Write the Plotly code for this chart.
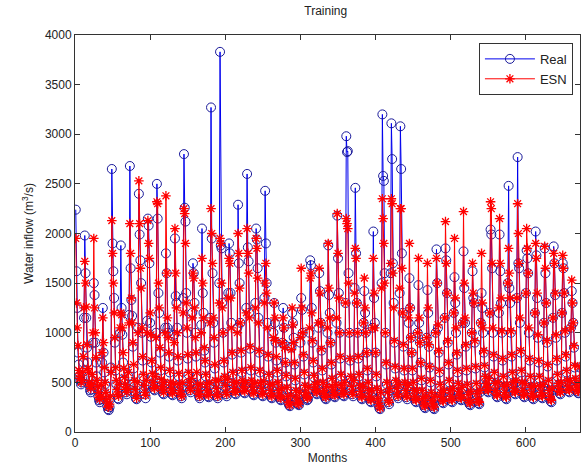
import plotly.graph_objects as go

# Real monthly water inflow (m^3/s), one row of 12 months per year
real_values = [
    2240, 1620, 1250, 800, 680, 560, 520, 480, 500, 560, 700, 1150,
    1980, 1600, 1150, 850, 700, 560, 470, 420, 400, 430, 520, 900,
    1500, 1380, 900, 700, 560, 430, 360, 320, 300, 330, 420, 700,
    1250, 800, 600, 480, 380, 310, 260, 230, 220, 250, 330, 650,
    2650, 1900, 1620, 1350, 900, 620, 480, 400, 340, 330, 450, 1000,
    1880, 1250, 980, 700, 600, 520, 450, 400, 380, 420, 560, 1180,
    2680, 1650, 1330, 1170, 860, 640, 500, 400, 340, 330, 470, 1050,
    2400, 1990, 1730, 1500, 1000, 720, 560, 440, 380, 340, 480, 1120,
    2150, 2080, 1700, 1100, 960, 700, 560, 480, 430, 420, 520, 1000,
    2500, 2150, 1400, 1200, 800, 620, 500, 430, 390, 380, 470, 1050,
    1800, 1600, 1050, 1000, 760, 600, 480, 420, 380, 370, 460, 980,
    1950, 1370, 1300, 1050, 720, 560, 460, 400, 360, 340, 460, 1350,
    2800, 2260, 2120, 1400, 1000, 740, 580, 480, 420, 400, 500, 1200,
    1700, 1600, 1300, 1000, 760, 560, 460, 400, 360, 340, 450, 1080,
    2050, 1400, 1200, 820, 700, 560, 460, 400, 360, 350, 470, 1150,
    3270, 1950, 1600, 1100, 900, 640, 500, 420, 360, 340, 480, 1500,
    3830, 1880, 1850, 1300, 1000, 700, 540, 450, 380, 360, 500, 1400,
    1900, 1800, 1400, 1100, 780, 580, 480, 420, 390, 380, 470, 1050,
    2290, 1700, 1500, 1100, 800, 600, 500, 440, 400, 390, 480, 1250,
    2600, 1860, 1720, 1200, 840, 620, 500, 430, 380, 370, 460, 1300,
    2050, 1940, 1650, 1150, 800, 600, 480, 420, 370, 360, 480, 1350,
    2430, 1900, 1500, 1100, 760, 560, 460, 400, 350, 340, 450, 1000,
    1300, 1100, 900, 720, 600, 480, 400, 350, 330, 320, 420, 900,
    1250, 1050, 880, 700, 560, 430, 340, 290, 270, 260, 350, 850,
    1200, 1100, 950, 680, 520, 400, 330, 290, 280, 270, 380, 900,
    1350, 1230, 1000, 760, 580, 450, 380, 340, 320, 330, 430, 1000,
    1730, 1680, 1250, 900, 700, 550, 460, 410, 390, 380, 480, 1050,
    1600, 1420, 1100, 820, 620, 480, 400, 360, 340, 330, 440, 1000,
    1880, 1380, 1200, 900, 680, 520, 430, 380, 360, 350, 460, 1100,
    2180, 1750, 1400, 1000, 740, 560, 450, 400, 370, 360, 480, 1300,
    2980, 2820, 2830, 1600, 1000, 720, 540, 440, 380, 360, 500, 1450,
    2460, 1800, 1300, 1000, 740, 560, 450, 390, 340, 330, 440, 1100,
    1420, 1200, 1000, 800, 620, 480, 400, 340, 310, 300, 400, 1050,
    2020, 1350, 1100, 800, 560, 420, 320, 270, 240, 230, 380, 1500,
    3200, 2580, 2530, 1600, 1000, 680, 480, 380, 300, 280, 420, 1600,
    3110, 2750, 1700, 1300, 900, 640, 500, 420, 360, 340, 460, 1400,
    3080, 2650, 1800, 1200, 860, 620, 480, 400, 350, 330, 450, 1100,
    1550, 1250, 950, 800, 620, 480, 400, 340, 310, 300, 400, 1000,
    1480, 1100, 900, 700, 520, 400, 320, 270, 250, 240, 340, 950,
    1430, 1200, 860, 650, 500, 380, 300, 260, 240, 230, 340, 1000,
    1840, 1500, 1050, 800, 600, 460, 380, 330, 300, 290, 400, 1150,
    1850, 1730, 1400, 900, 680, 500, 400, 340, 310, 300, 420, 1200,
    1560, 1300, 1000, 780, 600, 470, 390, 350, 330, 320, 430, 1100,
    1820, 1450, 1100, 860, 620, 460, 360, 300, 280, 270, 390, 1000,
    1620, 1350, 1300, 900, 640, 470, 370, 310, 290, 280, 400, 1100,
    1400, 1250, 1000, 800, 650, 540, 470, 430, 410, 400, 520, 1200,
    2040, 1990, 1650, 1000, 760, 580, 470, 400, 360, 350, 480, 1200,
    1990, 1620, 1300, 1000, 720, 540, 440, 380, 340, 330, 460, 1500,
    2480, 1450, 1300, 1000, 760, 580, 480, 420, 390, 380, 500, 1350,
    2770, 1700, 1650, 1100, 800, 600, 480, 400, 360, 350, 470, 1400,
    1830, 1750, 1600, 1000, 720, 540, 430, 370, 340, 330, 450, 1200,
    2020, 1780, 1350, 950, 700, 540, 440, 380, 350, 340, 460, 1100,
    1850, 1600, 1300, 900, 660, 500, 400, 340, 310, 300, 420, 1150,
    1870, 1700, 1380, 950, 720, 560, 470, 420, 390, 380, 480, 1200,
    1700, 1650, 1400, 1000, 760, 600, 500, 440, 410, 400, 500, 1050,
    1420, 1300, 1100, 850, 650, 520, 450, 410, 395, 390, 480, 650,
]

# ESN model output (m^3/s)
esn_values = [
    1950, 1300, 1050, 870, 620, 540, 560, 500, 520, 600, 760, 1250,
    1720, 1500, 1260, 880, 640, 600, 500, 460, 440, 480, 580, 1000,
    1950, 1250, 1000, 750, 520, 460, 400, 350, 330, 360, 470, 800,
    1150, 900, 650, 500, 400, 330, 290, 250, 260, 280, 360, 600,
    2130, 1800, 1500, 1200, 950, 650, 520, 430, 380, 360, 480, 1050,
    1200, 1180, 1050, 800, 640, 550, 480, 430, 400, 440, 600, 1100,
    2100, 1800, 1350, 1100, 900, 680, 520, 430, 370, 340, 500, 1000,
    2530, 2100, 1650, 1450, 1050, 760, 580, 470, 400, 370, 520, 1000,
    2130, 1900, 1750, 1200, 980, 720, 590, 500, 450, 440, 560, 950,
    2320, 2300, 1500, 1250, 850, 650, 530, 460, 420, 400, 500, 1000,
    2380, 1600, 1150, 950, 800, 620, 500, 440, 400, 390, 490, 900,
    2050, 1600, 1250, 1000, 760, 590, 480, 420, 380, 360, 500, 1200,
    2250, 2200, 1900, 1300, 1050, 780, 600, 500, 440, 420, 540, 1150,
    1600, 1550, 1250, 950, 800, 600, 480, 420, 380, 360, 480, 1000,
    1750, 1500, 1150, 850, 720, 580, 480, 420, 380, 370, 500, 1100,
    2250, 2000, 1700, 1150, 950, 680, 520, 440, 380, 360, 520, 1300,
    1950, 1900, 1500, 1250, 1000, 720, 560, 470, 400, 380, 530, 1350,
    1750, 1700, 1350, 1050, 800, 600, 500, 440, 410, 400, 500, 1000,
    2000, 1800, 1450, 1100, 820, 620, 520, 460, 420, 410, 500, 1200,
    2050, 1800, 1600, 1150, 860, 650, 520, 450, 400, 390, 490, 1250,
    1950, 1850, 1550, 1100, 820, 620, 500, 440, 390, 380, 510, 1300,
    1500, 1700, 1400, 1050, 780, 580, 480, 420, 370, 360, 480, 950,
    1300, 1150, 920, 760, 620, 500, 420, 370, 350, 340, 440, 900,
    1150, 1050, 850, 700, 570, 450, 360, 300, 280, 270, 370, 830,
    1250, 1080, 900, 700, 540, 420, 350, 300, 290, 280, 400, 950,
    1650, 1250, 1000, 780, 600, 470, 400, 360, 340, 350, 450, 1050,
    1550, 1600, 1200, 920, 720, 570, 480, 430, 410, 400, 500, 1100,
    1650, 1400, 1100, 840, 640, 500, 420, 380, 360, 350, 460, 1050,
    1900, 1450, 1150, 900, 700, 540, 450, 400, 380, 370, 480, 1150,
    2200, 1800, 1350, 1000, 760, 580, 470, 420, 390, 380, 500, 1300,
    2150, 2100, 2050, 1500, 1000, 740, 560, 460, 400, 380, 520, 1400,
    1850, 1750, 1300, 1000, 760, 580, 470, 410, 360, 350, 460, 1100,
    1550, 1250, 1000, 800, 640, 500, 420, 360, 330, 320, 420, 1050,
    1750, 1400, 1050, 800, 580, 440, 340, 290, 260, 240, 400, 1450,
    2350, 2150, 1900, 1500, 1000, 700, 500, 400, 320, 300, 440, 1700,
    2350, 2300, 1600, 1250, 920, 660, 520, 440, 380, 360, 480, 1450,
    2250, 2250, 1650, 1200, 880, 640, 500, 420, 370, 350, 470, 1150,
    1900, 1250, 950, 800, 640, 500, 420, 360, 330, 320, 420, 1000,
    1750, 1150, 900, 700, 540, 420, 340, 290, 270, 260, 360, 950,
    1700, 1250, 880, 660, 520, 400, 320, 280, 260, 250, 360, 1000,
    1750, 1500, 1080, 820, 620, 480, 400, 350, 320, 310, 420, 1150,
    2120, 1700, 1400, 920, 700, 520, 420, 360, 330, 320, 440, 1200,
    1950, 1350, 1050, 800, 620, 490, 410, 370, 350, 340, 450, 1100,
    2220, 1500, 1150, 880, 640, 480, 380, 320, 300, 290, 410, 1000,
    1700, 1400, 1300, 920, 660, 490, 390, 330, 310, 300, 420, 1100,
    1800, 1300, 1050, 820, 670, 560, 490, 450, 430, 420, 540, 1200,
    2320, 2250, 1700, 1050, 780, 600, 490, 420, 380, 370, 500, 1250,
    2150, 1700, 1350, 1020, 740, 560, 460, 400, 360, 350, 480, 1500,
    1850, 1600, 1350, 1020, 780, 600, 500, 440, 410, 400, 520, 1350,
    2300, 2000, 1700, 1150, 820, 620, 500, 420, 380, 370, 490, 1400,
    2050, 1850, 1600, 1050, 740, 560, 450, 390, 360, 350, 470, 1200,
    1900, 1750, 1400, 980, 720, 560, 460, 400, 370, 360, 480, 1100,
    1870, 1650, 1300, 920, 680, 520, 420, 360, 330, 320, 440, 1150,
    1800, 1700, 1400, 980, 740, 580, 490, 440, 410, 400, 500, 1200,
    1780, 1650, 1400, 1020, 780, 620, 520, 460, 430, 420, 520, 1050,
    1530, 1300, 1100, 870, 670, 540, 470, 430, 415, 410, 500, 660,
]

months = list(range(1, len(real_values) + 1))
x_ticks = [0, 100, 200, 300, 400, 500, 600]
y_ticks = [0, 500, 1000, 1500, 2000, 2500, 3000, 3500, 4000]

FONT = "Liberation Sans, Arial"

fig = go.Figure()
fig.add_trace(go.Scatter(
    x=months, y=real_values, name="Real", mode="lines+markers",
    line=dict(color="#0000ee", width=1),
    marker=dict(symbol="circle-open", size=9, color="#1a1a9a", line=dict(width=1)),
))
fig.add_trace(go.Scatter(
    x=months, y=esn_values, name="ESN", mode="lines+markers",
    line=dict(color="#ff0000", width=1),
    marker=dict(symbol="asterisk-open", size=8, color="#ff0000",
                line=dict(width=1.3, color="#ff0000")),
))

axis_common = dict(
    showline=True, linecolor="#333", linewidth=1, mirror="ticks",
    ticks="inside", ticklen=5, tickcolor="#333", showgrid=False, zeroline=False,
    tickfont=dict(family=FONT, size=12, color="#222"),
)

fig.update_layout(
    width=587, height=472,
    margin=dict(l=75, r=7, t=35, b=40),
    paper_bgcolor="white", plot_bgcolor="white",
    title=dict(text="Training", x=0.555, xanchor="center", y=0.985, yanchor="top",
               font=dict(family=FONT, size=12, color="#222")),
    xaxis=dict(range=[0, 672], tickvals=x_ticks, ticktext=[str(v) for v in x_ticks],
               title=dict(text="Months", standoff=4,
                          font=dict(family=FONT, size=12, color="#222")),
               **axis_common),
    yaxis=dict(range=[0, 4000], tickvals=y_ticks, ticktext=[str(v) for v in y_ticks],
               title=dict(text="Water inflow (m<sup>3</sup>/s)", standoff=8,
                          font=dict(family=FONT, size=12, color="#222")),
               **axis_common),
    legend=dict(x=0.986, xanchor="right", y=0.98, yanchor="top",
                bgcolor="white", bordercolor="#333", borderwidth=1,
                font=dict(family=FONT, size=13, color="#222"),
                tracegroupgap=0, itemwidth=50),
    showlegend=True,
)

fig.write_html("out.html")
